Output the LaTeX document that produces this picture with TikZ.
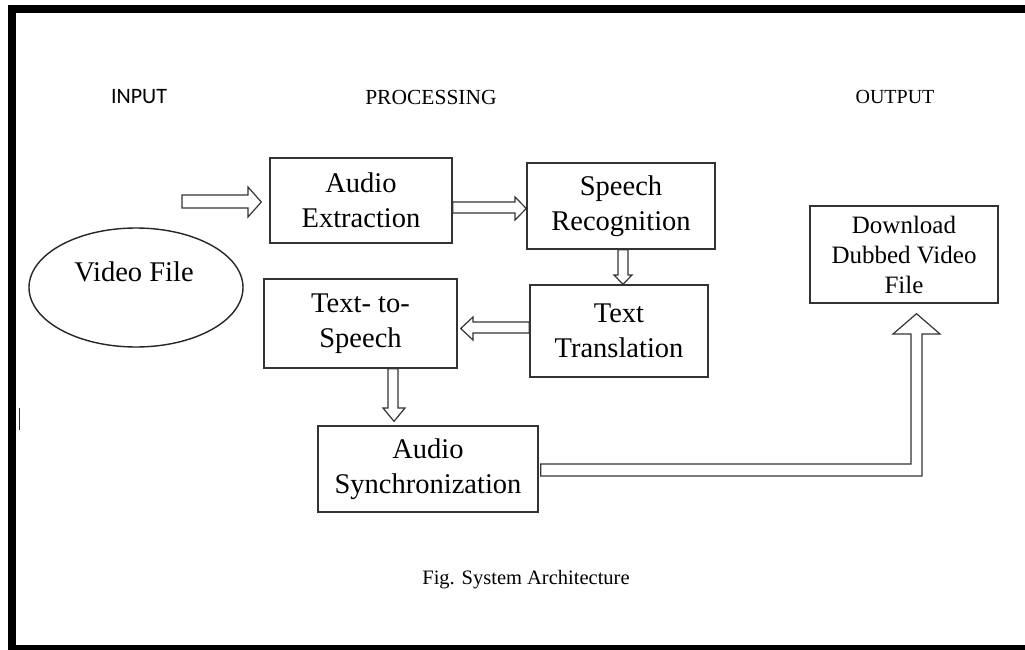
\documentclass[tikz,border=0pt]{standalone}
\usepackage{fontspec}
\setmainfont{Liberation Serif}
\newfontfamily\carl{Carlito}
\usetikzlibrary{shapes.geometric,calc}
\begin{document}
\begin{tikzpicture}[x=1pt,y=-1pt,
  box/.style={draw=black!80,line width=1.4pt,inner sep=0pt,align=center,
    font=\fontsize{28.5}{35.5}\selectfont},
  blk/.style={draw=black!80,line width=1.2pt,fill=white,line join=miter},
  head/.style={font=\fontsize{21.5}{26}\selectfont,inner sep=0pt},
  frame/.style={fill=black,draw=none}]
% canvas
\fill[white] (0,0) rectangle (1025,650);
\useasboundingbox (0,0) rectangle (1025,650);
\fill[frame] (8,5) rectangle (1025,13);
\fill[frame] (8,5) rectangle (16,650);
\fill[frame] (8,645) rectangle (1025,650);
\draw[line width=1.5pt,black!80] (19.5,408) -- (19.5,430);

% headings
\node[head,font=\carl\fontsize{22}{26}\selectfont] (inp) at (139,97) {INPUT};
\node[head] (proc) at (431,97) {PROCESSING};
\node[head,font=\fontsize{20}{24}\selectfont] (outp) at (895,97) {OUTPUT};

% input
\node[draw=black!85,line width=1.4pt,ellipse,minimum width=214pt,
  minimum height=119pt,inner sep=0pt] (vf) at (136,287.5) {};
\node[font=\fontsize{28.5}{35}\selectfont,inner sep=0pt] (vft) at (134,272) {Video File};

% processing boxes
\node[box,minimum width=182pt,minimum height=85pt] (ae) at (361,200.5) {Audio\\Extraction};
\node[box,minimum width=188pt,minimum height=86pt] (sr) at (621,206) {Speech\\Recognition};
\node[box,minimum width=178pt,minimum height=92pt] (tt) at (619,331) {Text\\Translation};
\node[box,minimum width=193pt,minimum height=89pt] (tts) at (360.5,323.5) {Text- to-\\Speech};
\node[box,minimum width=220pt,minimum height=86pt] (as) at (428,469) {Audio\\Synchronization};

% output
\node[box,minimum width=188pt,minimum height=97pt,font=\fontsize{25}{30}\selectfont]
  (dl) at (904,254.5) {Download\\Dubbed Video\\File};

% caption
\node[font=\fontsize{20.5}{24}\selectfont,inner sep=0pt] (cap) at (526,580) {Fig. System Architecture};

% block arrows
\coordinate (vin) at (182,201.5);
\draw[blk] (vin |- 0,195) -- (248,195) -- (248,187) -- ($(ae.west)+(-8,1.5)$)
  -- (248,217) -- (248,208) -- (vin |- 0,208) -- cycle;

\draw[blk] (ae.east |- 0,202) -- (515,202) -- (515,197) -- (sr.west |- 0,208.5)
  -- (515,220) -- (515,213) -- (ae.east |- 0,213) -- cycle;

\draw[blk] (sr.south -| 618,0) -- (618,275) -- (614,275) -- (tt.north -| 623,0)
  -- (632,275) -- (628,275) -- (sr.south -| 628,0) -- cycle;

\draw[blk] (tt.west |- 0,322) -- (473,322) -- (473,317) -- ($(tts.east)+(3,5)$)
  -- (473,340) -- (473,333) -- (tt.west |- 0,333) -- cycle;

\draw[blk] (tts.south -| 388,0) -- (388,408) -- (383,408) -- ($(as.north)+(-34,-4)$)
  -- (405,408) -- (398,408) -- (tts.south -| 398,0) -- cycle;

\draw[blk] ($(as.east |- 0,464)+(2,0)$) -- (911,464) -- (911,334) -- (893,334)
  -- ($(dl.south)+(12.5,10)$) -- (940,334) -- (922,334) -- (922,476)
  -- ($(as.east |- 0,476)+(2,0)$) -- cycle;
\end{tikzpicture}
\end{document}
